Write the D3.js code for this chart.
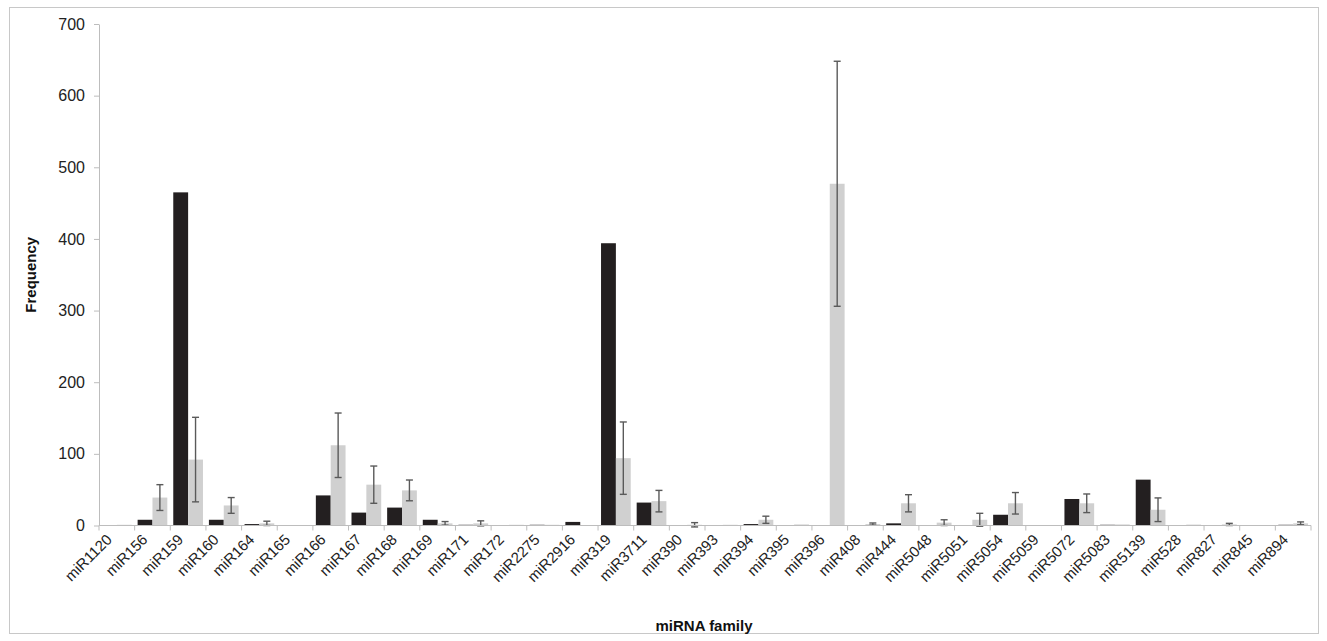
<!DOCTYPE html>
<html>
<head>
<meta charset="utf-8">
<script src="https://cdn.jsdelivr.net/npm/d3@7"></script>
<style>
html,body{margin:0;padding:0;background:#fff;}
svg{display:block;font-family:"Liberation Sans",Arial,sans-serif;}
</style>
</head>
<body>
<svg id="chart" width="1327" height="641"></svg>
<script>
const categories = ["miR1120","miR156","miR159","miR160","miR164","miR165","miR166","miR167","miR168","miR169","miR171","miR172","miR2275","miR2916","miR319","miR3711","miR390","miR393","miR394","miR395","miR396","miR408","miR444","miR5048","miR5051","miR5054","miR5059","miR5072","miR5083","miR5139","miR528","miR827","miR845","miR894"];
const seriesA = [0,8,465,8,2,0,42,18,25,8,1,0,1,5,394,32,0,0,2,0,0.5,0,3,0.5,0.5,15,0,37,1,64,0,0,0,1];
const seriesB = [1,39,92,28,3,0.5,112,57,49,3,3,1,1,0.5,94,34,1,1,8,1.5,477,2,31,4,8,31,0.5,31,1.5,22,1.3,1.5,0.5,3];
const errorB = [0,18,59,11,3,0,45,26,14.5,2.5,3.5,0,0,0,50.5,15,3,0,5,0,171,1.5,12,4,9,15,0,13,0,16.5,0,1.5,0,2];
const yTicks = [0,100,200,300,400,500,600,700];

const svg = d3.select("#chart");
const x0 = 99, x1 = 1311, yTop = 24, yBase = 525.5;

svg.append("rect").attr("x",9.5).attr("y",7.5).attr("width",1309).attr("height",626)
  .attr("fill","#fff").attr("stroke","#c8c8c8").attr("stroke-width",1);

const x = d3.scaleBand().domain(categories).range([x0,x1]).paddingInner(0).paddingOuter(0);
const xs = d3.scaleBand().domain(["A","B"]).range([0,x.bandwidth()]).paddingInner(0).paddingOuter(0.2);
const y = d3.scaleLinear().domain([0,700]).range([yBase,yTop]);

// bars
const g = svg.append("g");
categories.forEach((c,i)=>{
  g.append("rect").attr("x",x(c)+xs("A")).attr("width",xs.bandwidth())
   .attr("y",y(seriesA[i])).attr("height",y(0)-y(seriesA[i])).attr("fill","#231f20");
  g.append("rect").attr("x",x(c)+xs("B")).attr("width",xs.bandwidth())
   .attr("y",y(seriesB[i])).attr("height",y(0)-y(seriesB[i])).attr("fill","#d0d0d0");
});

// error bars
const eg = svg.append("g").attr("stroke","#5a5a5a").attr("stroke-width",1.4);
categories.forEach((c,i)=>{
  if(!errorB[i]) return;
  const cx = x(c)+xs("B")+xs.bandwidth()/2;
  const hi = y(seriesB[i]+errorB[i]), lo = y(seriesB[i]-errorB[i]);
  eg.append("line").attr("x1",cx).attr("x2",cx).attr("y1",hi).attr("y2",lo);
  eg.append("line").attr("x1",cx-3.5).attr("x2",cx+3.5).attr("y1",hi).attr("y2",hi);
  eg.append("line").attr("x1",cx-3.5).attr("x2",cx+3.5).attr("y1",lo).attr("y2",lo);
});

// y axis
const yAxis = d3.axisLeft(y).tickValues(yTicks).tickSize(5).tickPadding(9).tickSizeOuter(0);
const ya = svg.append("g").attr("transform",`translate(${x0},0)`).call(yAxis);
ya.select(".domain").attr("stroke","#bdbdbd");
ya.selectAll(".tick line").attr("stroke","#bdbdbd");
ya.selectAll(".tick text").attr("font-size",16).attr("fill","#222").attr("font-family","Liberation Sans, Arial, sans-serif");

// x axis
const xa = svg.append("g").attr("transform",`translate(0,${yBase})`);
xa.append("line").attr("x1",x0).attr("x2",x1).attr("y1",0).attr("y2",0).attr("stroke","#bdbdbd");
const bounds = categories.map(c=>x(c)).concat([x1]);
bounds.forEach(b=>{
  xa.append("line").attr("x1",b).attr("x2",b).attr("y1",0).attr("y2",5).attr("stroke","#bdbdbd");
});
categories.forEach(c=>{
  const cx = x(c)+x.bandwidth()/2 - 4;
  xa.append("text").attr("transform",`translate(${cx},${15}) rotate(-45)`)
    .attr("text-anchor","end").attr("font-size",15).attr("fill","#222").text(c);
});

// titles
svg.append("text").attr("x",704).attr("y",631).attr("text-anchor","middle")
  .attr("font-weight","bold").attr("font-size",15).attr("fill","#111").text("miRNA family");
svg.append("text").attr("transform",`translate(36,${(yTop+yBase)/2}) rotate(-90)`).attr("text-anchor","middle")
  .attr("font-weight","bold").attr("font-size",15).attr("fill","#111").text("Frequency");
</script>
</body>
</html>
